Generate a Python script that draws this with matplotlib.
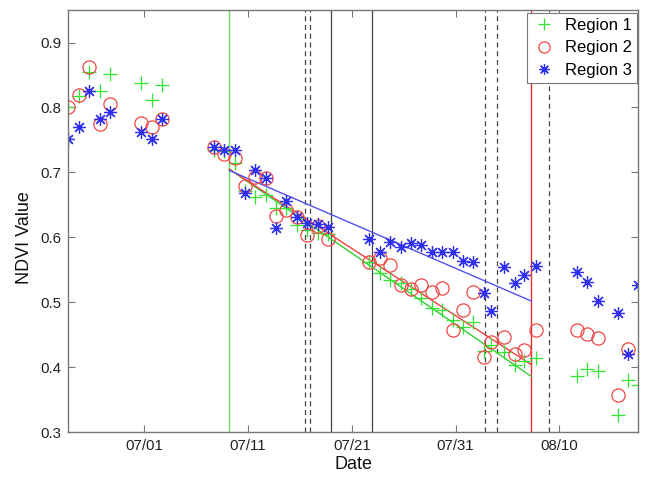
import matplotlib
matplotlib.use('Agg')
import matplotlib.pyplot as plt
import matplotlib.dates as mdates
import numpy as np
import pandas as pd

# days measured from 07/01 (acquisitions fall at ~0.7 of a day)
day = [-7.3, -6.3, -5.3, -4.3, -3.3, -0.3, 0.7, 1.7,
       6.7, 7.7, 8.7, 9.7, 10.7, 11.7, 12.7, 13.7, 14.7, 15.7, 16.7, 17.7,
       21.7, 22.7, 23.7, 24.7, 25.7, 26.7, 27.7, 28.7, 29.7, 30.7, 31.7,
       32.7, 33.4, 34.7, 35.7, 36.6, 37.7,
       41.7, 42.7, 43.7, 45.6, 46.6, 47.6]

region1 = [0.800, 0.817, 0.855, 0.826, 0.851, 0.837, 0.812, 0.835,
           0.735, 0.733, 0.715, 0.672, 0.662, 0.665, 0.645, 0.646, 0.619, 0.612, 0.607, 0.606,
           0.562, 0.545, 0.534, 0.530, 0.520, 0.506, 0.491, 0.488, 0.473, 0.462, 0.470,
           0.425, 0.435, 0.424, 0.404, 0.410, 0.415,
           0.386, 0.398, 0.395, 0.327, 0.380, 0.373]

region2 = [0.800, 0.819, 0.862, 0.774, 0.805, 0.776, 0.770, 0.782,
           0.739, 0.728, 0.722, 0.679, 0.693, 0.692, 0.633, 0.642, 0.632, 0.604, 0.618, 0.598,
           0.562, 0.568, 0.557, 0.527, 0.520, 0.527, 0.516, 0.522, 0.458, 0.489, 0.516,
           0.416, 0.439, 0.446, 0.420, 0.427, 0.458,
           0.458, 0.451, 0.445, 0.357, 0.428, np.nan]

region3 = [0.752, 0.770, 0.826, 0.783, 0.793, 0.762, 0.751, 0.782,
           0.739, 0.734, 0.734, 0.668, 0.704, 0.692, 0.614, 0.656, 0.632, 0.622, 0.620, 0.616,
           0.598, 0.578, 0.593, 0.586, 0.592, 0.588, 0.578, 0.578, 0.577, 0.564, 0.562,
           0.515, 0.486, 0.554, 0.530, 0.542, 0.556,
           0.546, 0.532, 0.502, 0.483, 0.420, 0.527]

# trend lines between the green and red markers (start/end values)
trend_days = [8.2, 37.3]
trend1 = [0.705, 0.386]
trend2 = [0.705, 0.404]
trend3 = [0.703, 0.502]

# event lines
green_line = [8.21]
red_line = [37.27]
solid_lines = [18.0, 21.98]
dashed_lines = [15.49, 15.97, 32.84, 34.02, 39.0]

xlim_days = [-7.3, 47.6]
tick_days = [0, 10, 20, 30, 40]

base = mdates.date2num(pd.Timestamp('2010-07-01'))
def to_num(d):
    return base + np.asarray(d, dtype=float)

plt.rcParams['font.family'] = ['Liberation Sans', 'DejaVu Sans']

fig = plt.figure(figsize=(6.45, 4.84), dpi=100)
ax = fig.add_axes([0.1062, 0.1068, 0.8834, 0.8725])

c_green = '#2ee62e'
c_red = '#f04646'
c_blue = '#3030f0'

for x in green_line:
    ax.axvline(to_num(x), color='#66dd66', lw=1.0)
for x in red_line:
    ax.axvline(to_num(x), color='#e03030', lw=1.0)
for x in solid_lines:
    ax.axvline(to_num(x), color='#444444', lw=0.9)
for x in dashed_lines:
    ax.axvline(to_num(x), color='#444444', lw=0.9, ls=(0, (4, 3)))

ax.plot(to_num(trend_days), trend1, color='#33cc33', lw=1.0)
ax.plot(to_num(trend_days), trend2, color='#f04040', lw=1.0)
ax.plot(to_num(trend_days), trend3, color='#5050f0', lw=1.0)

ax.plot(to_num(day), region1, ls='none', marker='+', ms=10, mew=0.9,
        color=c_green, label='Region 1')
ax.plot(to_num(day), region2, ls='none', marker='o', ms=9.5, mew=0.9,
        mfc='none', mec=c_red, label='Region 2')
ax.plot(to_num(day), region3, ls='none', marker=(8, 2, 0), ms=9, mew=0.9,
        color=c_blue, label='Region 3')

ax.set_xlim(to_num(xlim_days[0]), to_num(xlim_days[1]))
ax.set_ylim(0.3, 0.95)
ax.set_xticks(to_num(tick_days))
ax.xaxis.set_major_formatter(mdates.DateFormatter('%m/%d'))
ax.set_yticks([0.3, 0.4, 0.5, 0.6, 0.7, 0.8, 0.9])
ax.set_yticklabels(['0.3', '0.4', '0.5', '0.6', '0.7', '0.8', '0.9'])

ax.tick_params(direction='in', top=True, right=True, length=5, width=0.8,
               colors='#777777', labelcolor='#222222', labelsize=10.8, pad=5)
for s in ax.spines.values():
    s.set_color('#777777')
    s.set_linewidth(1.0)

ax.set_xlabel('Date', fontsize=13, color='#111111', labelpad=2)
ax.set_ylabel('NDVI Value', fontsize=13, color='#111111', labelpad=5)
ax.yaxis.set_label_coords(-0.063, 0.46)

leg = ax.legend(loc='upper right', bbox_to_anchor=(0.998, 0.993), borderaxespad=0,
                fontsize=12, fancybox=False, edgecolor='#777777', framealpha=1,
                labelspacing=0.45, handlelength=1.5, handletextpad=0.5,
                borderpad=0.3, numpoints=1, markerscale=0.85)
leg.get_frame().set_linewidth(0.8)

fig.savefig('out.png', dpi=100)
